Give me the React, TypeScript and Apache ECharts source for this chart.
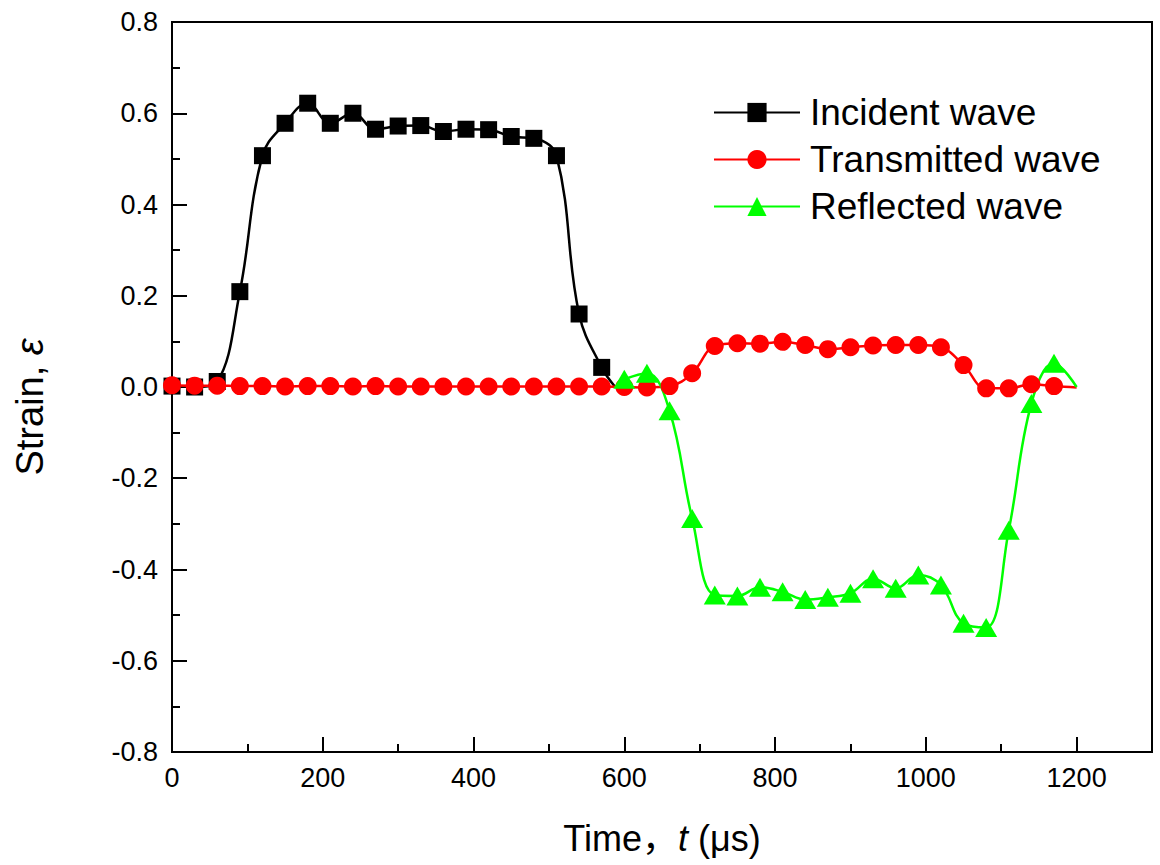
import React, { useEffect, useRef } from "react";
import * as echarts from "echarts";

// ---- data ----
const incidentT = [0, 30, 60, 90, 120, 150, 180, 210, 240, 270, 300, 330, 360, 390, 420, 450, 480, 510, 540, 570];
const incidentV = [0.002, 0.0, 0.012, 0.209, 0.507, 0.578, 0.622, 0.578, 0.6, 0.565, 0.572, 0.573, 0.56, 0.565, 0.564, 0.549, 0.545, 0.507, 0.16, 0.043];
const incidentEnd = [588, 0.0];

const transT = [0, 30, 60, 90, 120, 150, 180, 210, 240, 270, 300, 330, 360, 390, 420, 450, 480, 510, 540, 570, 600, 630, 660, 690, 720, 750, 780, 810, 840, 870, 900, 930, 960, 990, 1020, 1050, 1080, 1110, 1140, 1170];
const transV = [0.004, 0.003, 0.003, 0.002, 0.002, 0.001, 0.002, 0.002, 0.001, 0.002, 0.001, 0.001, 0.001, 0.001, 0.001, 0.001, 0.001, 0.001, 0.001, 0.001, 0.0, -0.001, 0.002, 0.03, 0.09, 0.096, 0.095, 0.099, 0.092, 0.083, 0.087, 0.091, 0.092, 0.092, 0.087, 0.048, -0.003, -0.003, 0.006, 0.002];
const transEnd = [1200, -0.001];

const reflT = [600, 630, 660, 690, 720, 750, 780, 810, 840, 870, 900, 930, 960, 990, 1020, 1050, 1080, 1110, 1140, 1170];
const reflV = [0.017, 0.03, -0.052, -0.288, -0.456, -0.458, -0.439, -0.449, -0.466, -0.461, -0.452, -0.42, -0.441, -0.412, -0.434, -0.518, -0.527, -0.314, -0.036, 0.052];
const reflEnd = [1200, 0.0];

const xMajorTicks = [0, 200, 400, 600, 800, 1000, 1200];
const xMinorTicks = [100, 300, 500, 700, 900, 1100];

const seriesNames = ["Incident wave", "Transmitted wave", "Reflected wave"];
const xTitle = "Time，{i|t} (μs)";
const yTitle = "Strain, {i|ε}";

const FONT = "'Liberation Sans', Arial, Helvetica, sans-serif";
const TITLE_FONT = "'Liberation Sans', Arial, 'Noto Sans CJK SC', sans-serif";

function build(ts: number[], vs: number[], end: number[]) {
  const d: any[] = ts.map((t, i) => [t, vs[i]]);
  d.push({ value: end, symbol: "none" });
  return d;
}

export default function App() {
  const ref = useRef<HTMLDivElement>(null);
  useEffect(() => {
    document.body.style.margin = "0";
    const chart = echarts.init(ref.current!, null, { renderer: "svg" });
    const option: any = {
      animation: false,
      backgroundColor: "#ffffff",
      grid: {
        left: 172,
        right: 8,
        top: 22,
        bottom: 113,
        show: true,
        borderColor: "#000",
        borderWidth: 2,
        backgroundColor: "transparent",
      },
      legend: {
        orient: "vertical",
        left: 713,
        top: 94,
        padding: 0,
        itemWidth: 86,
        itemHeight: 24,
        itemGap: 10,
        data: seriesNames,
        textStyle: {
          fontFamily: FONT,
          fontSize: 37,
          color: "#000",
          lineHeight: 36,
          padding: [0, 0, 0, 5],
        },
      },
      graphic: [
        {
          type: "text",
          x: 30,
          y: 407,
          rotation: Math.PI / 2,
          style: {
            text: yTitle,
            fontFamily: FONT,
            fontSize: 38,
            fill: "#000",
            align: "center",
            verticalAlign: "middle",
            rich: { i: { fontStyle: "italic", fontFamily: FONT, fontSize: 38, fill: "#000" } },
          },
        },
        {
          type: "text",
          x: 662,
          y: 838,
          style: {
            text: xTitle,
            fontFamily: TITLE_FONT,
            fontSize: 36,
            fill: "#000",
            align: "center",
            verticalAlign: "middle",
            rich: { i: { fontStyle: "italic", fontFamily: FONT, fontSize: 36, fill: "#000" } },
          },
        },
      ],
      xAxis: [
        {
          type: "value",
          min: 0,
          max: 1300,
          interval: 200,
          position: "bottom",
          axisLine: { show: true, onZero: false, lineStyle: { color: "#000", width: 2 } },
          axisTick: { show: true, inside: true, length: 15, lineStyle: { color: "#000", width: 2 }, customValues: xMajorTicks },
          minorTick: { show: false },
          axisLabel: {
            customValues: xMajorTicks,
            fontFamily: FONT,
            fontSize: 27,
            color: "#000",
            margin: 12,
            formatter: (v: number) => String(v),
          },
          splitLine: { show: false },
        },
        {
          type: "value",
          min: 0,
          max: 1300,
          position: "bottom",
          gridIndex: 0,
          axisLine: { show: false, onZero: false },
          axisTick: { show: true, inside: true, length: 8, lineStyle: { color: "#000", width: 2 }, customValues: xMinorTicks },
          axisLabel: { show: false },
          splitLine: { show: false },
        },
      ],
      yAxis: {
        type: "value",
        min: -0.8,
        max: 0.8,
        interval: 0.2,
        axisLine: { show: true, onZero: false, lineStyle: { color: "#000", width: 2 } },
        axisTick: { show: true, inside: true, length: 15, lineStyle: { color: "#000", width: 2 } },
        minorTick: { show: true, splitNumber: 2, length: 8, lineStyle: { color: "#000", width: 2 } },
        axisLabel: {
          fontFamily: FONT,
          fontSize: 27,
          color: "#000",
          margin: 14,
          formatter: (v: number) => v.toFixed(1),
        },
        splitLine: { show: false },
      },
      series: [
        {
          name: seriesNames[0],
          type: "line",
          xAxisIndex: 0,
          smooth: 0.4,
          symbol: "rect",
          symbolSize: 17,
          showAllSymbol: true,
          color: "#000000",
          lineStyle: { color: "#000000", width: 2.5 },
          itemStyle: { color: "#000000" },
          data: build(incidentT, incidentV, incidentEnd),
        },
        {
          name: seriesNames[1],
          type: "line",
          xAxisIndex: 0,
          smooth: 0.4,
          symbol: "circle",
          symbolSize: 18,
          showAllSymbol: true,
          color: "#ff0000",
          lineStyle: { color: "#ff0000", width: 2.5 },
          itemStyle: { color: "#ff0000" },
          data: build(transT, transV, transEnd),
        },
        {
          name: seriesNames[2],
          type: "line",
          xAxisIndex: 0,
          smooth: 0.4,
          symbol: "triangle",
          symbolSize: [22, 19],
          showAllSymbol: true,
          color: "#00ff00",
          lineStyle: { color: "#00ff00", width: 2.5 },
          itemStyle: { color: "#00ff00" },
          data: build(reflT, reflV, reflEnd),
        },
      ],
    };
    chart.setOption(option);
    return () => chart.dispose();
  }, []);
  return <div ref={ref} style={{ width: 1160, height: 865 }} />;
}
